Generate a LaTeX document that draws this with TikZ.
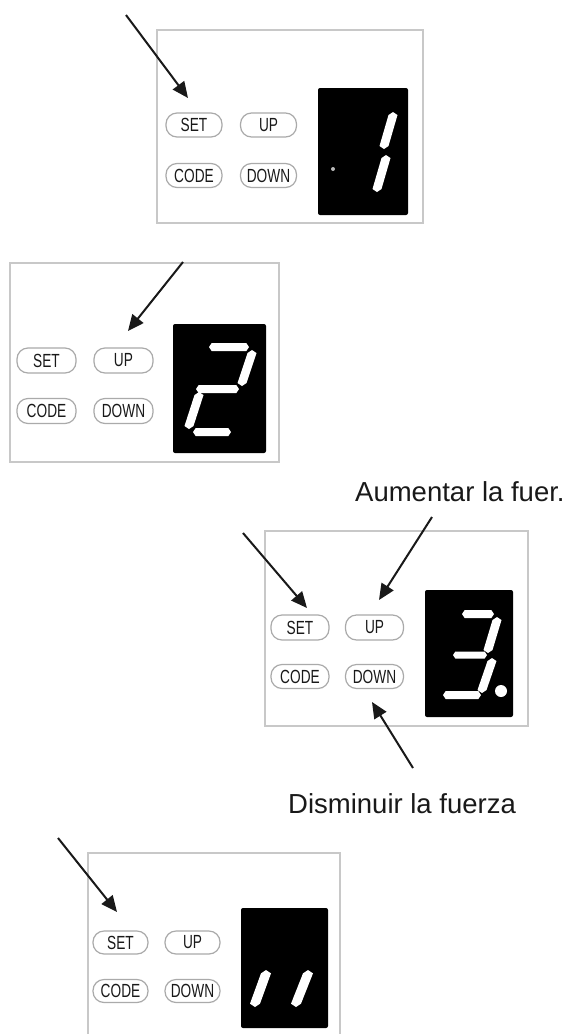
\documentclass[tikz,border=0pt]{standalone}
\usepackage{fontspec}
\setmainfont{Liberation Sans}
\usepackage{graphicx}
\usetikzlibrary{arrows.meta}
\definecolor{panelgray}{RGB}{200,200,200}
\definecolor{btngray}{RGB}{170,170,170}
\definecolor{ink}{RGB}{25,25,25}
\newcommand{\btxt}[1]{\scalebox{0.72}[1]{\fontsize{19}{19}\selectfont #1}}
\newcommand{\vsegm}[5]{\fill[white] (#1,#2) -- ({#1+#5/2},{#2+#5/3}) -- ({#3+#5/2},{#4-#5/3}) -- (#3,#4) -- ({#3-#5/2},{#4-#5/3}) -- ({#1-#5/2},{#2+#5/3}) -- cycle;}
\newcommand{\hsegm}[4]{\fill[white] (#1,#2) -- ({#1+#4/3},{#2-#4/2}) -- ({#3-#4/3},{#2-#4/2}) -- (#3,#2) -- ({#3-#4/3},{#2+#4/2}) -- ({#1+#4/3},{#2+#4/2}) -- cycle;}
\tikzset{
  panel/.style={draw=panelgray, line width=1.3pt, fill=white, inner sep=0pt},
  btn/.style={draw=btngray, line width=1.2pt, rounded corners=11pt, fill=white, inner sep=0pt, text=ink},
  disp/.style={fill=black, rounded corners=2pt, inner sep=0pt},
  arr/.style={draw=ink, line width=2pt, -{Triangle[length=16pt,width=14pt]}},
  lbl/.style={font=\fontsize{27.5}{30}\selectfont, text=ink, inner sep=0pt, anchor=base west}
}
\begin{document}
\begin{tikzpicture}[x=1pt,y=-1pt]
\useasboundingbox[fill=white] (0,0) rectangle (574,1034);

% ---------- Panel 1 ----------
\node[panel, minimum width=266pt, minimum height=193pt] (p1) at (290,126.5) {};
\node[btn, minimum width=56pt, minimum height=24pt] (s1) at (194,125) {\btxt{SET}};
\node[btn, minimum width=56pt, minimum height=24pt] (u1) at (268.5,125) {\btxt{UP}};
\node[btn, minimum width=56pt, minimum height=24pt] (c1) at (194,175.5) {\btxt{CODE}};
\node[btn, minimum width=56pt, minimum height=24pt] (d1) at (268.5,175.5) {\btxt{DOWN}};
\node[disp, minimum width=90pt, minimum height=127pt] (x1) at (363,151.5) {};
\vsegm{393}{112}{384}{149}{9}
\vsegm{386}{155}{377}{192}{9}
\fill[gray!55] (333,169) circle[radius=2pt];
\coordinate (a1s) at (126,15);
\coordinate (a1e) at (188,98);
\draw[arr] (a1s) -- (a1e);

% ---------- Panel 2 ----------
\node[panel, minimum width=269pt, minimum height=199pt] (p2) at (144.5,362.5) {};
\node[btn, minimum width=59pt, minimum height=25pt] (s2) at (46.5,360.5) {\btxt{SET}};
\node[btn, minimum width=59pt, minimum height=25pt] (u2) at (123.5,360.5) {\btxt{UP}};
\node[btn, minimum width=59pt, minimum height=25pt] (c2) at (46.5,411) {\btxt{CODE}};
\node[btn, minimum width=59pt, minimum height=25pt] (d2) at (123.5,411) {\btxt{DOWN}};
\node[disp, minimum width=93pt, minimum height=129pt] (x2) at (219.5,388.5) {};
\hsegm{209}{347}{249}{8}
\vsegm{252}{350}{242}{386}{9}
\hsegm{196}{389}{239}{8}
\vsegm{199}{392}{189}{429}{9}
\hsegm{193}{432}{231}{8}
\coordinate (a2s) at (183,262);
\coordinate (a2e) at (128,331);
\draw[arr] (a2s) -- (a2e);

% ---------- Panel 3 ----------
\node[lbl] (t1) at (355,501) {Aumentar la fuer.};
\node[panel, minimum width=263pt, minimum height=195pt] (p3) at (396.5,628.5) {};
\node[btn, minimum width=58pt, minimum height=25pt] (s3) at (300,627.5) {\btxt{SET}};
\node[btn, minimum width=58pt, minimum height=25pt] (u3) at (374.5,627.5) {\btxt{UP}};
\node[btn, minimum width=58pt, minimum height=24pt] (c3) at (300,676.5) {\btxt{CODE}};
\node[btn, minimum width=58pt, minimum height=24pt] (d3) at (374.5,676.5) {\btxt{DOWN}};
\node[disp, minimum width=88pt, minimum height=127pt] (x3) at (469,653.5) {};
\hsegm{462}{614}{494}{8}
\vsegm{497}{617}{488}{653}{9}
\hsegm{453}{655}{487}{7}
\vsegm{492}{658}{482}{693}{9}
\hsegm{443}{695}{481}{8}
\fill[white] (501,691) circle[radius=6pt];
\coordinate (a3s) at (243,533);
\coordinate (a3e) at (307,608);
\draw[arr] (a3s) -- (a3e);
\coordinate (a4s) at (432,517);
\coordinate (a4e) at (379,600);
\draw[arr] (a4s) -- (a4e);
\coordinate (a5s) at (413,768);
\coordinate (a5e) at (372,702);
\draw[arr] (a5s) -- (a5e);
\node[lbl] (t2) at (288,813) {Disminuir la fuerza};

% ---------- Panel 4 ----------
\node[panel, minimum width=252pt, minimum height=220pt] (p4) at (214,963) {};
\node[btn, minimum width=55pt, minimum height=23pt] (s4) at (120.5,942.5) {\btxt{SET}};
\node[btn, minimum width=55pt, minimum height=23pt] (u4) at (192.5,942.5) {\btxt{UP}};
\node[btn, minimum width=55pt, minimum height=23pt] (c4) at (120.5,991) {\btxt{CODE}};
\node[btn, minimum width=55pt, minimum height=23pt] (d4) at (192.5,991) {\btxt{DOWN}};
\node[disp, minimum width=87pt, minimum height=120pt] (x4) at (284.5,968) {};
\vsegm{266}{970}{255}{1007}{10}
\vsegm{308}{970}{296}{1007}{10}
\coordinate (a6s) at (58,838);
\coordinate (a6e) at (117,912);
\draw[arr] (a6s) -- (a6e);
\end{tikzpicture}
\end{document}
